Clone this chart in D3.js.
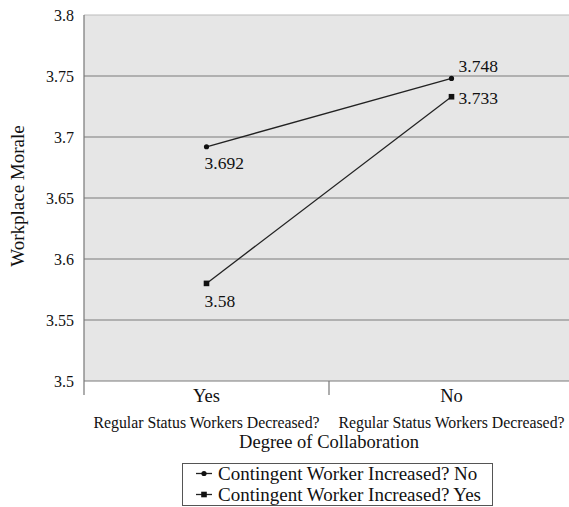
<!DOCTYPE html>
<html>
<head>
<meta charset="utf-8">
<script src="https://cdn.jsdelivr.net/npm/d3@7"></script>
<style>
  body { margin: 0; background: #fff; }
  text { font-family: "Liberation Serif", "DejaVu Serif", serif; fill: #111; }
</style>
</head>
<body>
<div class="canva"></div>
<script>
const categories = ["Yes", "No"];
const catSub = "Regular Status Workers Decreased?";
const seriesNames = ["Contingent Worker Increased? No", "Contingent Worker Increased? Yes"];
const seriesNo = [3.692, 3.748];
const seriesYes = [3.58, 3.733];
const yTicks = [3.5, 3.55, 3.6, 3.65, 3.7, 3.75, 3.8];

const W = 569, H = 507;
const margin = {top: 15, left: 84, bottom: 126};
const plotRight = 574;

const svg = d3.select(".canva").append("svg")
  .attr("width", W).attr("height", H);

const x = d3.scaleBand().domain(categories).range([margin.left, plotRight]);
const y = d3.scaleLinear().domain([3.5, 3.8]).range([H - margin.bottom, margin.top]);

// plot background
svg.append("rect")
  .attr("x", margin.left).attr("y", y(3.8))
  .attr("width", plotRight - margin.left).attr("height", y(3.5) - y(3.8))
  .attr("fill", "#e6e6e6");

// gridlines
svg.append("g").selectAll("line").data(yTicks).enter().append("line")
  .attr("x1", margin.left).attr("x2", plotRight)
  .attr("y1", d => y(d)).attr("y2", d => y(d))
  .attr("stroke", d => d === 3.8 ? "#bbb" : "#7a7a7a").attr("stroke-width", 1.2);

// y axis
const yAxis = d3.axisLeft(y).tickValues(yTicks).tickSize(0).tickPadding(10)
  .tickFormat(d => d3.format("")(+d.toFixed(2)));
const yg = svg.append("g").attr("transform", `translate(${margin.left},0)`).call(yAxis);
yg.select(".domain").remove();
yg.selectAll("text").attr("font-size", 16).attr("fill", "#222");

// left axis line and category separator
svg.append("line")
  .attr("x1", margin.left).attr("x2", margin.left)
  .attr("y1", y(3.8)).attr("y2", y(3.5) + 14)
  .attr("stroke", "#777").attr("stroke-width", 1.2);
svg.append("line")
  .attr("x1", x("No")).attr("x2", x("No"))
  .attr("y1", y(3.5)).attr("y2", y(3.5) + 14)
  .attr("stroke", "#777").attr("stroke-width", 1.2);

// x labels
const xl = svg.append("g").selectAll("g").data(categories).enter().append("g");
xl.append("text")
  .attr("x", d => x(d) + x.bandwidth() / 2).attr("y", y(3.5) + 21)
  .attr("text-anchor", "middle").attr("font-size", 18.5).text(d => d);
xl.append("text")
  .attr("x", d => x(d) + x.bandwidth() / 2).attr("y", y(3.5) + 47)
  .attr("text-anchor", "middle").attr("font-size", 15.8).text(catSub);

svg.append("text")
  .attr("x", x("No")).attr("y", y(3.5) + 67)
  .attr("text-anchor", "middle").attr("font-size", 18.5).text("Degree of Collaboration");

svg.append("text")
  .attr("transform", `translate(24,${(y(3.5) + y(3.8)) / 2 - 2}) rotate(-90)`)
  .attr("text-anchor", "middle").attr("font-size", 19).text("Workplace Morale");

// lines
const cx = d => x(d) + x.bandwidth() / 2;
const line = d3.line().x((v, i) => cx(categories[i])).y(v => y(v));
[seriesNo, seriesYes].forEach(s => {
  svg.append("path").datum(s).attr("d", line)
    .attr("fill", "none").attr("stroke", "#222").attr("stroke-width", 1.3);
});

// markers
svg.append("g").selectAll("circle").data(seriesNo).enter().append("circle")
  .attr("cx", (v, i) => cx(categories[i])).attr("cy", v => y(v))
  .attr("r", 2.6).attr("fill", "#111");
svg.append("g").selectAll("rect").data(seriesYes).enter().append("rect")
  .attr("x", (v, i) => cx(categories[i]) - 2.8).attr("y", v => y(v) - 2.8)
  .attr("width", 5.6).attr("height", 5.6).attr("fill", "#111");

// value labels
const lab = (v, i, dx, dy) => svg.append("text")
  .attr("x", cx(categories[i]) + dx).attr("y", y(v) + dy)
  .attr("font-size", 17.5).text(v);
lab(seriesNo[0], 0, -2, 22);
lab(seriesNo[1], 1, 7, -6);
lab(seriesYes[0], 0, -2, 24);
lab(seriesYes[1], 1, 7, 7);

// legend
const lg = svg.append("g");
lg.append("rect").attr("x", 182.5).attr("y", 463.5).attr("width", 310).attr("height", 42)
  .attr("fill", "#fff").attr("stroke", "#555").attr("stroke-width", 1);
seriesNames.forEach((n, i) => {
  const ly = 473.5 + i * 21;
  lg.append("line").attr("x1", 196).attr("x2", 212).attr("y1", ly).attr("y2", ly)
    .attr("stroke", "#222").attr("stroke-width", 1.3);
  if (i === 0) lg.append("circle").attr("cx", 204).attr("cy", ly).attr("r", 2.6).attr("fill", "#111");
  else lg.append("rect").attr("x", 201.2).attr("y", ly - 2.8).attr("width", 5.6).attr("height", 5.6).attr("fill", "#111");
  lg.append("text").attr("x", 218).attr("y", ly + 6).attr("font-size", 19).text(n);
});
</script>
</body>
</html>
